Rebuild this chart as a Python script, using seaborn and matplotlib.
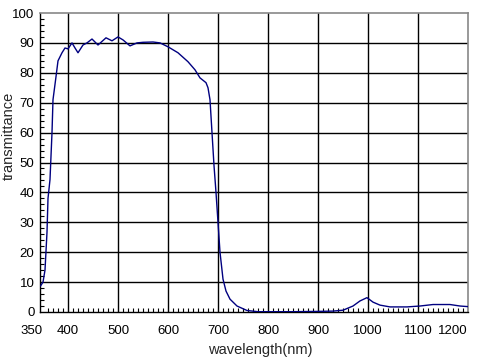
import numpy as np
import pandas as pd
import matplotlib
matplotlib.use("Agg")
import matplotlib.pyplot as plt
import seaborn as sns
from matplotlib.ticker import MultipleLocator, FixedLocator

# transmittance curve
wavelength = [345, 350, 354, 358, 360, 364, 368, 370, 376, 380, 388, 394, 400,
              408, 414, 420, 430, 438, 448, 460, 476, 488, 500, 510, 524, 538,
              550, 570, 584, 600, 620, 640, 654, 664, 676, 680, 684, 688, 692,
              696, 700, 704, 710, 716, 724, 738, 758, 780, 850, 900, 930, 950,
              970, 984, 998, 1010, 1024, 1044, 1078, 1104, 1130, 1164, 1184, 1200]
transmittance = [8.7, 10, 14, 26.7, 38, 44.3, 60, 71, 78.7, 84, 86.7, 88.3, 88,
                 90, 88.3, 86.7, 89.3, 90, 91.3, 89.3, 91.7, 90.7, 92, 91, 89, 90,
                 90.2, 90.3, 90, 88.7, 86.7, 83.7, 81, 78.3, 76.7, 75, 71, 60, 49,
                 40, 30, 20, 11, 7, 4.3, 2, 0.5, 0.1, 0.1, 0.2, 0.3, 0.6,
                 2, 3.7, 4.8, 3.3, 2.3, 1.7, 1.7, 2, 2.5, 2.5, 2, 1.8]

x_ticks = [350, 400, 500, 600, 700, 800, 900, 1000, 1100, 1200]
y_ticks = list(range(0, 101, 10))

df = pd.DataFrame({"wavelength": wavelength, "transmittance": transmittance})

sns.set_style("white")
plt.rcParams["font.family"] = ["Liberation Sans", "DejaVu Sans"]

fig = plt.figure(figsize=(4.78, 3.6), dpi=100)
ax = fig.add_axes([40 / 478, 48 / 360, 428 / 478, 299 / 360])

# grid lines at major ticks (skip 350, it has no line)
for xv in x_ticks[1:-1]:
    ax.axvline(xv, color="black", lw=1.0, zorder=1)
for yv in y_ticks[1:-1]:
    ax.axhline(yv, color="black", lw=1.0, zorder=1)

sns.lineplot(data=df, x="wavelength", y="transmittance", ax=ax,
             color="#000080", lw=1, zorder=3)

ax.set_xlim(344, 1200)
ax.set_ylim(0, 100)
ax.xaxis.set_major_locator(FixedLocator(x_ticks))
ax.yaxis.set_major_locator(FixedLocator(y_ticks))
ax.xaxis.set_minor_locator(MultipleLocator(10))
ax.yaxis.set_minor_locator(MultipleLocator(2))
ax.tick_params(which="both", bottom=True, left=True, top=False, right=False)
ax.tick_params(which="major", length=0, labelsize=9.5, colors="black")
ax.tick_params(axis="x", which="major", pad=9)
ax.tick_params(axis="y", which="major", pad=4)
ax.tick_params(which="minor", direction="in", length=3, width=0.8, color="black")

# end labels pulled inside like the reference
xlabels = ax.get_xticklabels()
xlabels[0].set_ha("right")
xlabels[-1].set_ha("right")

for side in ["left", "bottom"]:
    ax.spines[side].set_color("black")
    ax.spines[side].set_linewidth(1.0)
for side in ["top", "right"]:
    ax.spines[side].set_color("#888888")
    ax.spines[side].set_linewidth(1.2)

ax.set_xlabel("wavelength(nm)", fontsize=10.5, va="center")
ax.set_ylabel("transmittance", fontsize=10.5, va="center")
ax.xaxis.set_label_coords(0.514, -0.127)
ax.yaxis.set_label_coords(-0.072, 0.589)

fig.savefig("out.png", dpi=100)
